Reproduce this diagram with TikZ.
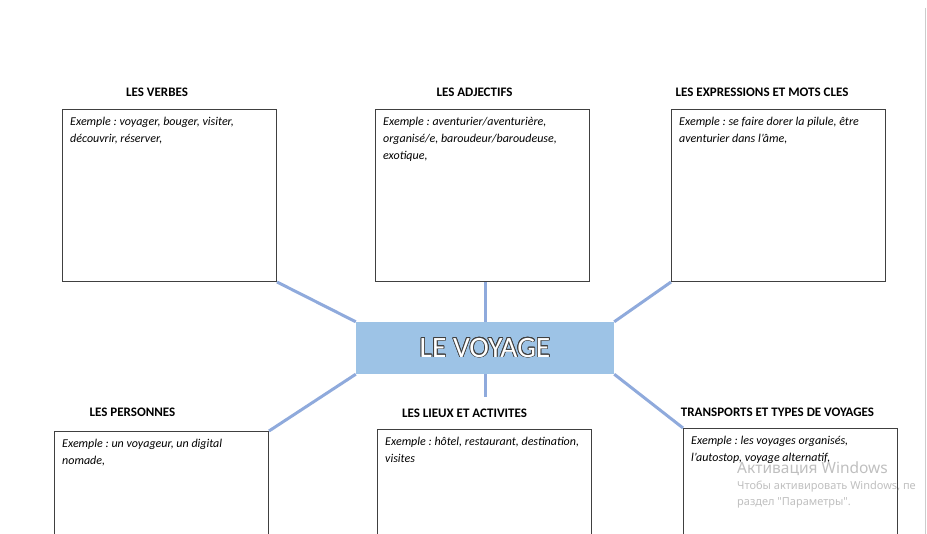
\documentclass[tikz,border=0pt]{standalone}
\usepackage{fontspec}
\setmainfont{Carlito}
\newfontfamily\winfont{Noto Sans}
\usepackage{contour}
\contourlength{0.8pt}
\usetikzlibrary{positioning,backgrounds}
\definecolor{linkblue}{HTML}{8FAADC}
\definecolor{centrefill}{HTML}{9DC3E6}
\definecolor{frameline}{HTML}{404040}
\frenchspacing

\begin{document}
\begin{tikzpicture}[x=1pt,y=-1pt,
	theme/.style={font=\bfseries\fontsize{13}{15}\selectfont,inner sep=0pt},
	frame/.style={draw=frameline,line width=1pt,minimum width=214pt,minimum height=172pt,anchor=north west,inner sep=0pt},
	example/.style={font=\itshape\fontsize{12}{17}\selectfont,align=left,inner sep=0pt,anchor=north west},
	link/.style={draw=linkblue,line width=3pt},
	centre/.style={fill=centrefill,minimum width=258pt,minimum height=52pt,inner sep=0pt},
	watermark/.style={text=black!25,anchor=west,inner sep=0pt}]
	\useasboundingbox (0,0) rectangle (927,534);
	\clip (0,0) rectangle (927,534);
	%
	\node[centre,text=white] (voyage) at (485,348) {\fontsize{29.5}{32}\selectfont\contour{frameline}{LE VOYAGE}};
	%
	\node[frame] (verbes) at (62,109) {};
	\node[frame] (adjectifs) at (375,109) {};
	\node[frame] (expressions) at (671,109) {};
	\node[frame] (personnes) at (54,431) {};
	\node[frame] (lieux) at (377,429) {};
	\node[frame] (transports) at (683,428) {};
	%
	\node[theme,above=12pt of verbes.north,xshift=-12.5pt] (verbes_title) {LES VERBES};
	\node[theme,above=12pt of adjectifs.north,xshift=-8pt] (adjectifs_title) {LES ADJECTIFS};
	\node[theme,above=12pt of expressions.north,xshift=-16.5pt] (expressions_title) {LES EXPRESSIONS ET MOTS CLES};
	\node[theme,above=14pt of personnes.north,xshift=-29pt] (personnes_title) {LES PERSONNES};
	\node[theme,above=11pt of lieux.north,xshift=-20pt] (lieux_title) {LES LIEUX ET ACTIVITES};
	\node[theme,above=11pt of transports.north,xshift=-13pt] (transports_title) {TRANSPORTS ET TYPES DE VOYAGES};
	%
	\node[example,below right=8pt and 8pt of verbes.north west] (verbes_text) {Exemple : voyager, bouger, visiter,\\ découvrir, réserver,};
	\node[example,below right=8pt and 8pt of adjectifs.north west] (adjectifs_text) {Exemple : aventurier/aventurière,\\ organisé/e, baroudeur/baroudeuse,\\ exotique,};
	\node[example,below right=8pt and 8pt of expressions.north west] (expressions_text) {Exemple : se faire dorer la pilule, être\\ aventurier dans l’âme,};
	\node[example,below right=8pt and 8pt of personnes.north west] (personnes_text) {Exemple : un voyageur, un digital\\ nomade,};
	\node[example,below right=8pt and 8pt of lieux.north west] (lieux_text) {Exemple : hôtel, restaurant, destination,\\ visites};
	\node[example,below right=8pt and 8pt of transports.north west] (transports_text) {Exemple : les voyages organisés,\\ l’autostop, voyage alternatif,};
	%
	\coordinate (stub) at (485,397);
	\begin{scope}[on background layer]
	\draw[link] (verbes.south east) -- (voyage.north west);
	\draw[link] (voyage.north |- adjectifs.south) -- (voyage.north);
	\draw[link] (expressions.south west) -- (voyage.north east);
	\draw[link] (voyage.south west) -- (personnes.north east);
	\draw[link] (voyage.south) -- (stub);
	\draw[link] (voyage.south east) -- (transports.north west);
	\end{scope}
	%
	\node[watermark,font=\winfont\fontsize{15.5}{18}\selectfont] (wm_title) at (737,469) {Активация Windows};
	\node[watermark,font=\winfont\fontsize{11}{13}\selectfont] (wm_line1) at (737,487) {Чтобы активировать Windows, пе};
	\node[watermark,font=\winfont\fontsize{11}{13}\selectfont] (wm_line2) at (737,503) {раздел "Параметры".};
	\draw[black!20] (925,8) -- (925,534);
\end{tikzpicture}
\end{document}
